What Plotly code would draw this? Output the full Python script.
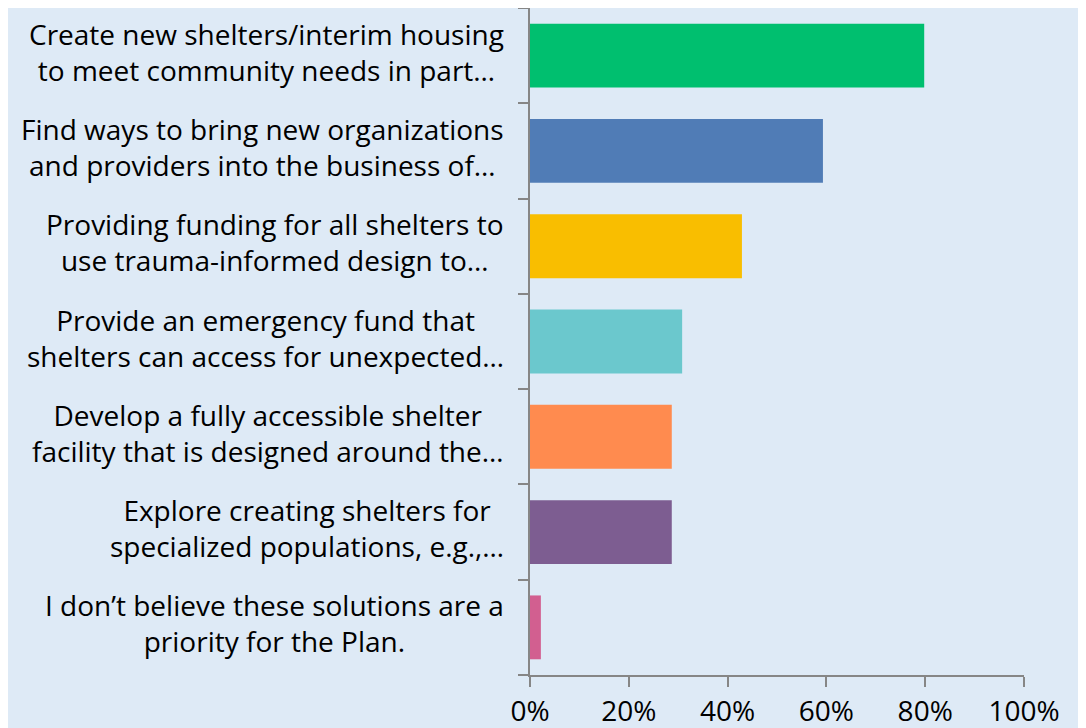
import plotly.graph_objects as go

categories = [
    "Create new shelters/interim housing<br>to meet community needs in part…",
    "Find ways to bring new organizations<br>and providers into the business of…",
    "Providing funding for all shelters to<br>use trauma-informed design to…",
    "Provide an emergency fund that<br>shelters can access for unexpected…",
    "Develop a fully accessible shelter<br>facility that is designed around the…",
    "Explore creating shelters for<br>specialized populations, e.g.,…",
    "I don’t believe these solutions are a<br>priority for the Plan.",
]
values = [0.798, 0.593, 0.429, 0.308, 0.287, 0.287, 0.022]
colors = ["#00BF6F", "#507CB6", "#F9BE00", "#6BC8CD", "#FF8B4F", "#7D5D91", "#D25F90"]
x_ticks = [0, 0.2, 0.4, 0.6, 0.8, 1.0]
x_tick_labels = ["0%", "20%", "40%", "60%", "80%", "100%"]

BG = "#DEEAF6"
AXIS = "#868686"
FONT = "Open Sans, Liberation Sans, Arial, sans-serif"

fig = go.Figure()
fig.add_trace(go.Bar(
    x=values,
    y=list(range(len(categories))),
    orientation="h",
    marker=dict(color=colors, line=dict(width=0)),
    width=0.67,
    hoverinfo="x",
))

for i, label in enumerate(categories):
    fig.add_annotation(
        x=0, y=i, xref="x", yref="y",
        text=label, showarrow=False,
        xanchor="right", yanchor="middle", align="center",
        xshift=-24, yshift=4,
        font=dict(family=FONT, size=28, color="#000000"),
    )

fig.update_layout(
    width=1086, height=728,
    paper_bgcolor=BG, plot_bgcolor=BG,
    margin=dict(l=522, r=70, t=0, b=61, autoexpand=False),
    showlegend=False,
    bargap=0.33,
)
fig.update_xaxes(
    range=[0, 1], tickvals=x_ticks, ticktext=x_tick_labels,
    showgrid=False, zeroline=False,
    showline=True, linecolor=AXIS, linewidth=2,
    ticks="outside", ticklen=10, tickwidth=2, tickcolor=AXIS,
    tickfont=dict(family=FONT, size=28, color="#000000"),
    fixedrange=True,
)
fig.update_yaxes(
    range=[len(categories) - 0.5, -0.5],
    tickvals=[i - 0.5 for i in range(len(categories) + 1)],
    ticktext=[""] * (len(categories) + 1),
    showgrid=False, zeroline=False,
    showline=True, linecolor=AXIS, linewidth=2,
    ticks="outside", ticklen=10, tickwidth=2, tickcolor=AXIS,
    fixedrange=True,
)

fig.write_html("out.html")
